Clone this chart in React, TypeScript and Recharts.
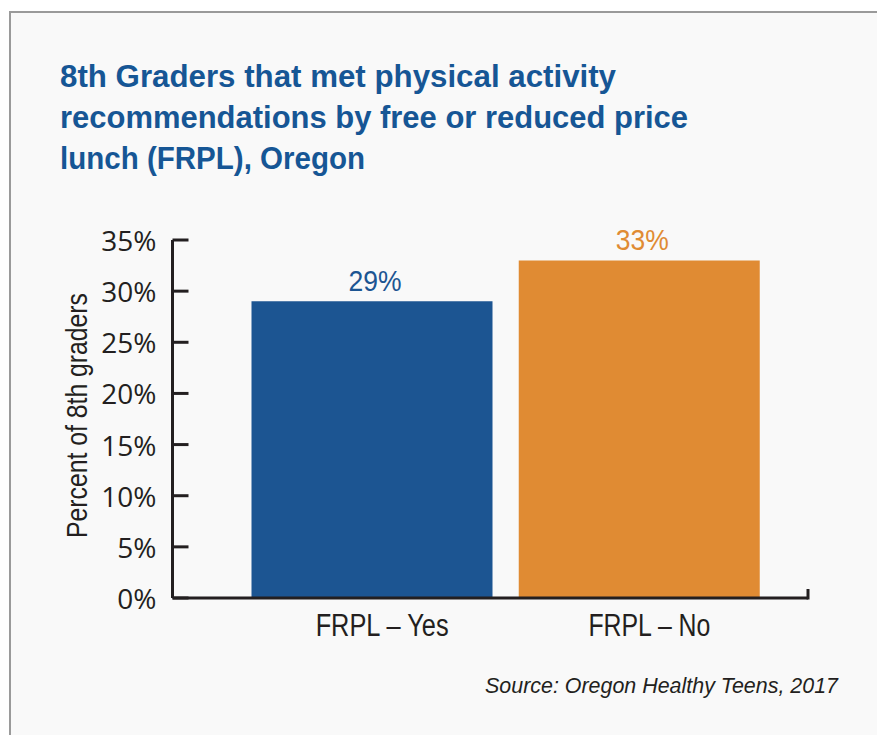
import React from "react";
import { BarChart, Bar, XAxis, YAxis, Cell } from "recharts";

const categories = ["FRPL – Yes", "FRPL – No"];
const values = [29, 33];
const barColors = ["#1c5592", "#e08b33"];
const yTicks = [0, 5, 10, 15, 20, 25, 30, 35];
const titleLines = [
  "8th Graders that met physical activity",
  "recommendations by free or reduced price",
  "lunch (FRPL), Oregon",
];
const titleWidths = [556, 628, 305];
const xLabelWidths = [133, 122];
const yLabel = "Percent of 8th graders";
const sourceText = "Source: Oregon Healthy Teens, 2017";

const data = categories.map((c, i) => ({ name: c, value: values[i] }));

const SANS = "'Liberation Sans', Arial, sans-serif";
const AXIS = "#231f20";

const YTick = (props: any) => {
  const { x, y, payload } = props;
  return (
    <g>
      <line x1={x} x2={x + 16} y1={y} y2={y} stroke={AXIS} strokeWidth={3} />
      <text
        x={x - 16}
        y={y + 11}
        textAnchor="end"
        fontFamily="'Open Sans', sans-serif"
        fontSize={28}
        fill={AXIS}
      >
        {`${payload.value}%`}
      </text>
    </g>
  );
};

const XTick = (props: any) => {
  const { x, y, payload, index } = props;
  return (
    <text
      x={x + 10}
      y={y + 38}
      textAnchor="middle"
      fontFamily={SANS}
      fontSize={31}
      fill={AXIS}
      textLength={xLabelWidths[index]}
      lengthAdjust="spacingAndGlyphs"
    >
      {payload.value}
    </text>
  );
};

const ValueLabel = (props: any) => {
  const { x, y, width, value, index } = props;
  return (
    <text
      x={x + width / 2 + 3}
      y={y - 10}
      textAnchor="middle"
      fontFamily={SANS}
      fontSize={30}
      fill={barColors[index]}
      textLength={53}
      lengthAdjust="spacingAndGlyphs"
    >
      {`${value}%`}
    </text>
  );
};

export default function App() {
  return (
    <div
      style={{
        position: "absolute",
        left: 0,
        top: 0,
        width: 877,
        height: 735,
        background: "#ffffff",
        overflow: "hidden",
      }}
    >
      <div
        style={{
          position: "absolute",
          left: 9,
          top: 11,
          width: 900,
          height: 760,
          background: "#f9f9f9",
          borderLeft: "2px solid #9a9a9a",
          borderTop: "2px solid #9a9a9a",
        }}
      />
      <svg
        width={877}
        height={735}
        style={{ position: "absolute", left: 0, top: 0 }}
      >
        {titleLines.map((t, i) => (
          <text
            key={i}
            x={60}
            y={87 + i * 41}
            fontFamily={SANS}
            fontWeight="bold"
            fontSize={31}
            fill="#165695"
            textLength={titleWidths[i]}
            lengthAdjust="spacingAndGlyphs"
          >
            {t}
          </text>
        ))}
        <text
          transform="translate(86.5,415.5) rotate(-90)"
          textAnchor="middle"
          fontFamily={SANS}
          fontSize={30}
          fill={AXIS}
          textLength={245}
          lengthAdjust="spacingAndGlyphs"
        >
          {yLabel}
        </text>
        <text
          x={838}
          y={693}
          textAnchor="end"
          fontFamily={SANS}
          fontStyle="italic"
          fontSize={22}
          fill={AXIS}
          textLength={353}
          lengthAdjust="spacingAndGlyphs"
        >
          {sourceText}
        </text>
      </svg>
      <div style={{ position: "absolute", left: 0, top: 0 }}>
        <BarChart
          width={877}
          height={735}
          data={data}
          margin={{ top: 240, right: 69, bottom: 77, left: 72.5 }}
          barSize={241}
        >
          <XAxis
            dataKey="name"
            height={60}
            padding={{ left: 66, right: 35 }}
            axisLine={{ stroke: AXIS, strokeWidth: 3 }}
            tickLine={false}
            tickSize={0}
            tickMargin={0}
            tick={<XTick />}
            interval={0}
          />
          <YAxis
            width={100}
            domain={[0, 35]}
            ticks={yTicks}
            axisLine={{ stroke: AXIS, strokeWidth: 3 }}
            tickLine={false}
            tickSize={0}
            tickMargin={0}
            tick={<YTick />}
            interval={0}
          />
          <Bar dataKey="value" isAnimationActive={false} label={<ValueLabel />}>
            {data.map((d, i) => (
              <Cell key={d.name} fill={barColors[i]} />
            ))}
          </Bar>
        </BarChart>
      </div>
      <svg
        width={877}
        height={735}
        style={{ position: "absolute", left: 0, top: 0, pointerEvents: "none" }}
      >
        <line x1={808} x2={808} y1={589} y2={599.5} stroke={AXIS} strokeWidth={3} />
      </svg>
    </div>
  );
}
